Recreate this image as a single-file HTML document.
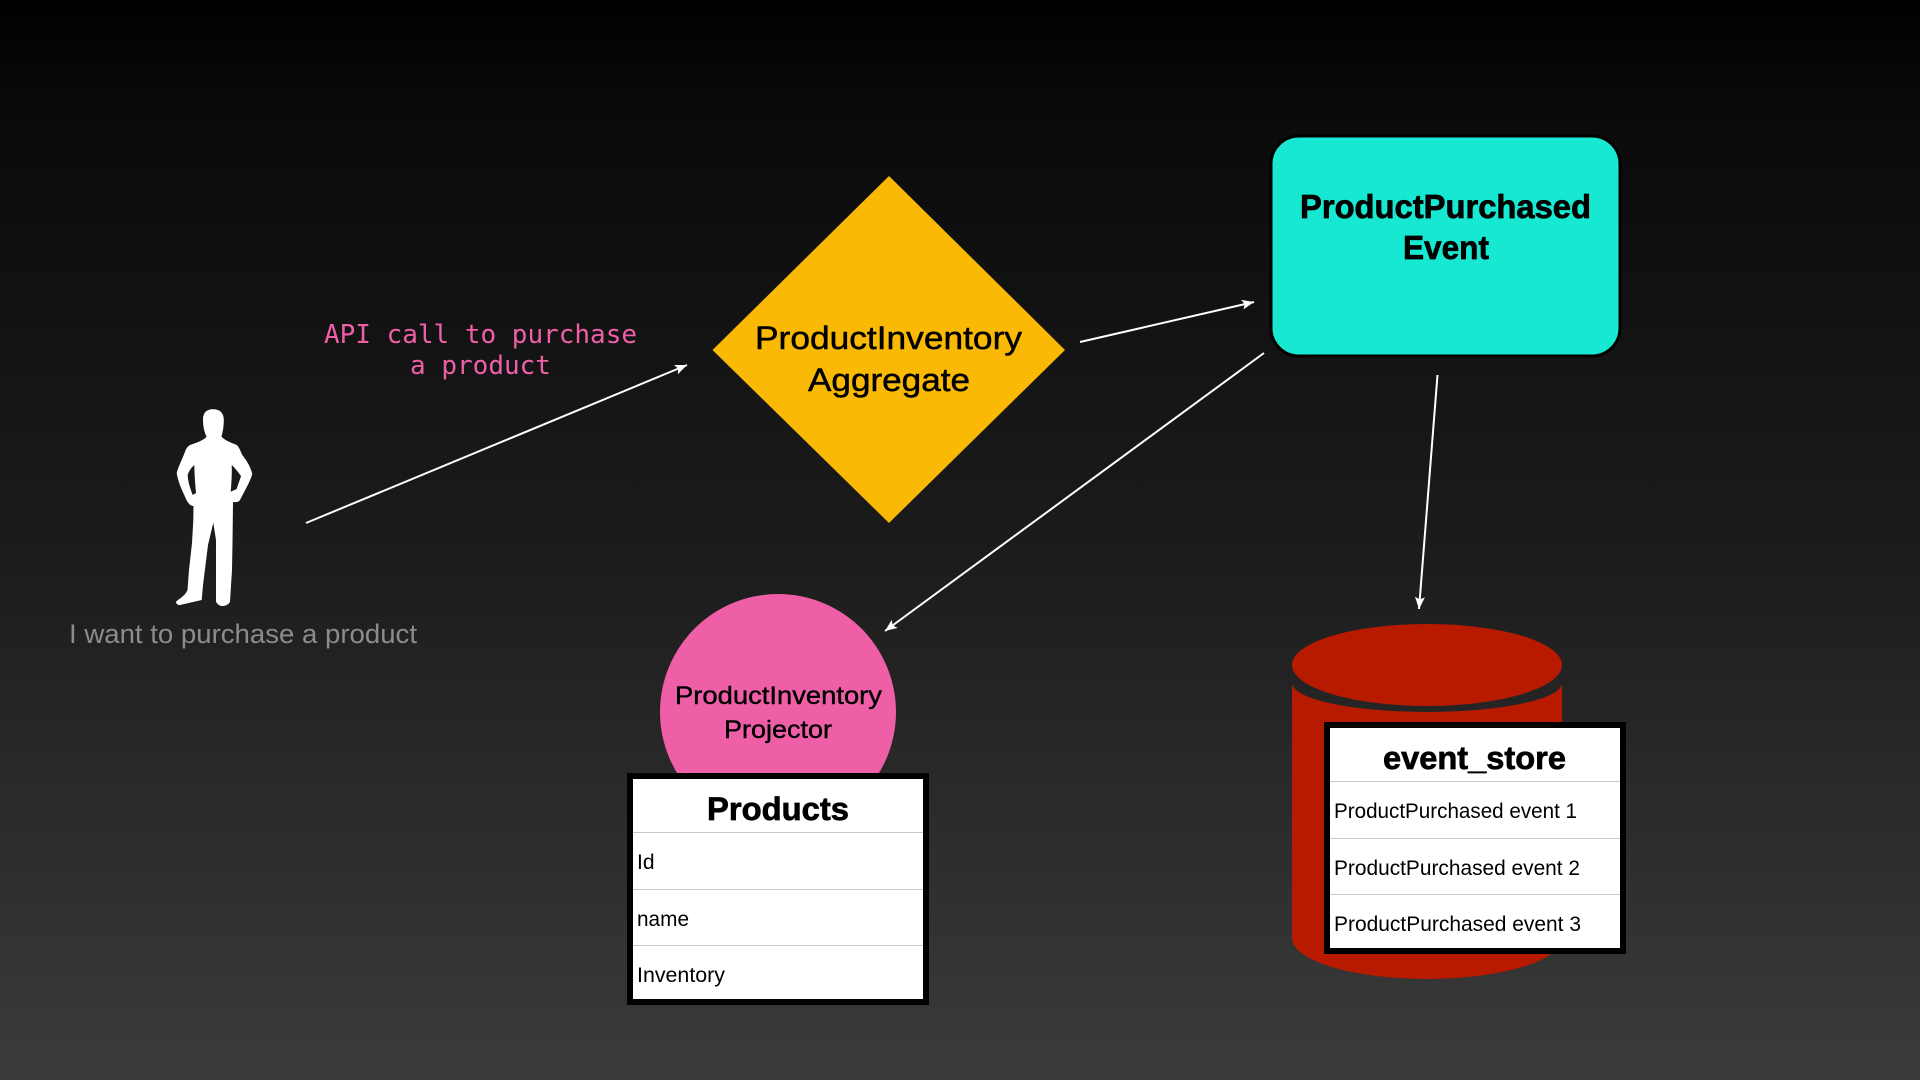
<!DOCTYPE html>
<html lang="en">
<head>
<meta charset="utf-8">
<title>Product Purchase Diagram</title>
<style>
html,body{margin:0;padding:0;width:1920px;height:1080px;overflow:hidden;background:#000}
svg{display:block}
text{font-family:"Liberation Sans",sans-serif;fill:#000}
.m{font-family:"DejaVu Sans Mono",monospace;fill:#ef5fa7;font-size:26px}
</style>
</head>
<body>
<svg xmlns="http://www.w3.org/2000/svg" width="1920" height="1080" viewBox="0 0 1920 1080">
<defs>
<linearGradient id="bg" x1="0" y1="0" x2="0" y2="1">
<stop offset="0" stop-color="#000"/>
<stop offset=".12" stop-color="#0b0b0b"/>
<stop offset=".5" stop-color="#1b1b1b"/>
<stop offset="1" stop-color="#3b3b3b"/>
</linearGradient>
<marker id="a" markerUnits="userSpaceOnUse" markerWidth="14" markerHeight="12" refX="12" refY="5" orient="auto">
<path d="M0,0 L12,5 L0,10 L2.500,5 Z" fill="#fff"/>
</marker>
</defs>
<rect width="1920" height="1080" fill="url(#bg)"/>

<!-- person -->
<path fill="#fff" fill-rule="evenodd" d="M213.300,409.300 C206,409.300 203,413 203,420 C203,427 204.500,432 206.500,436.700 C204,440 197,442.500 190,445 C187,447 186,449 185,451.700 C182,460 178,467 176.700,473 C178,482 182,490 185,496.700 C187,502 190,506 193.500,506 L193.300,520 L192,543 L189,570 L187.500,590 C185,596 180,598 176,601.700 C176,604 178,605 180,605 L201.700,600 L203,585 L208,545 L213.300,522.700 L216,540 L216,550 L216,601.700 C218,605 220,606 222.300,606 C226,606 229,604 230,601.700 L232,570 L232.500,543 L233,502 C236,502.500 239,502 240,500 C245,490 250,482 252.300,474 C250,465 246,460 242.300,455 C240,450 239,447 236.700,445 C232,443 226,441 221.500,436.700 C223,431 223.800,426 223.800,420 C223.800,413 220,409.300 213.300,409.300 Z M194.300,465 C191,468 189,471 187.700,475 C188,482 190,488 192.700,495 L196,493 C195,483 194.500,474 194.300,465 Z M231.700,465 C232,474 231.500,483 230.700,491.700 L236.700,489 C238,484 240,480 241,476 C238,472 235,468 231.700,465 Z"/>
<text x="69" y="643" font-size="27" textLength="348" lengthAdjust="spacingAndGlyphs" style="fill:#8c8c8c">I want to purchase a product</text>

<!-- connector label -->
<text class="m" x="480.500" y="343" text-anchor="middle">API call to purchase</text>
<text class="m" x="480.500" y="374" text-anchor="middle">a product</text>

<!-- connectors -->
<g stroke="#fff" stroke-width="2" fill="none">
<line x1="306" y1="523" x2="687" y2="365" marker-end="url(#a)"/>
<line x1="1080" y1="342" x2="1254" y2="302" marker-end="url(#a)"/>
<line x1="1264" y1="353" x2="885" y2="631" marker-end="url(#a)"/>
<line x1="1437.500" y1="375" x2="1419" y2="609" marker-end="url(#a)"/>
</g>

<!-- aggregate -->
<polygon points="889,176 1065,350 889,523 712.500,350" fill="#fab905"/>
<text x="755" y="349" font-size="32" textLength="267" lengthAdjust="spacingAndGlyphs" stroke="#000" stroke-width=".5">ProductInventory</text>
<text x="808" y="391" font-size="32" textLength="162" lengthAdjust="spacingAndGlyphs" stroke="#000" stroke-width=".5">Aggregate</text>

<!-- event -->
<rect x="1271" y="136" width="349" height="220" rx="28" fill="#17e8d2" stroke="#000" stroke-width="3"/>
<text x="1300" y="218" font-size="33" font-weight="700" textLength="291" lengthAdjust="spacingAndGlyphs" stroke="#000" stroke-width=".7">ProductPurchased</text>
<text x="1403" y="259" font-size="33" font-weight="700" textLength="86" lengthAdjust="spacingAndGlyphs" stroke="#000" stroke-width=".7">Event</text>

<!-- projector -->
<circle cx="778" cy="712" r="118" fill="#ef5fa7"/>
<text x="675" y="704" font-size="25" textLength="207" lengthAdjust="spacingAndGlyphs" stroke="#000" stroke-width=".4">ProductInventory</text>
<text x="724" y="738" font-size="25" textLength="108" lengthAdjust="spacingAndGlyphs" stroke="#000" stroke-width=".4">Projector</text>

<!-- products table -->
<rect x="627" y="773" width="302" height="232" fill="#000"/>
<rect x="633" y="779" width="290" height="220" fill="#fff"/>
<g fill="#c8c8c8">
<rect x="633" y="832" width="290" height="1"/>
<rect x="633" y="889" width="290" height="1"/>
<rect x="633" y="945" width="290" height="1"/>
</g>
<text x="707" y="820" font-size="32" font-weight="700" textLength="142" lengthAdjust="spacingAndGlyphs" stroke="#000" stroke-width=".7">Products</text>
<text x="637" y="869" font-size="21">Id</text>
<text x="637" y="926" font-size="21" textLength="52" lengthAdjust="spacingAndGlyphs">name</text>
<text x="637" y="982" font-size="21" textLength="88" lengthAdjust="spacingAndGlyphs">Inventory</text>

<!-- cylinder -->
<path d="M1292,683 L1292,938 A135,41 0 0 0 1562,938 L1562,683 A135,29 0 0 1 1292,683 Z" fill="#b81a00"/>
<ellipse cx="1427" cy="665" rx="135" ry="41" fill="#b81a00"/>

<!-- event_store table -->
<rect x="1324" y="722" width="302" height="232" fill="#000"/>
<rect x="1330" y="728" width="290" height="220" fill="#fff"/>
<g fill="#c8c8c8">
<rect x="1330" y="781" width="290" height="1"/>
<rect x="1330" y="838" width="290" height="1"/>
<rect x="1330" y="894" width="290" height="1"/>
</g>
<text x="1383" y="769" font-size="32" font-weight="700" textLength="183" lengthAdjust="spacingAndGlyphs" stroke="#000" stroke-width=".7">event_store</text>
<text x="1334" y="818" font-size="21" textLength="243" lengthAdjust="spacingAndGlyphs">ProductPurchased event 1</text>
<text x="1334" y="875" font-size="21" textLength="246" lengthAdjust="spacingAndGlyphs">ProductPurchased event 2</text>
<text x="1334" y="931" font-size="21" textLength="247" lengthAdjust="spacingAndGlyphs">ProductPurchased event 3</text>
</svg>
</body>
</html>
